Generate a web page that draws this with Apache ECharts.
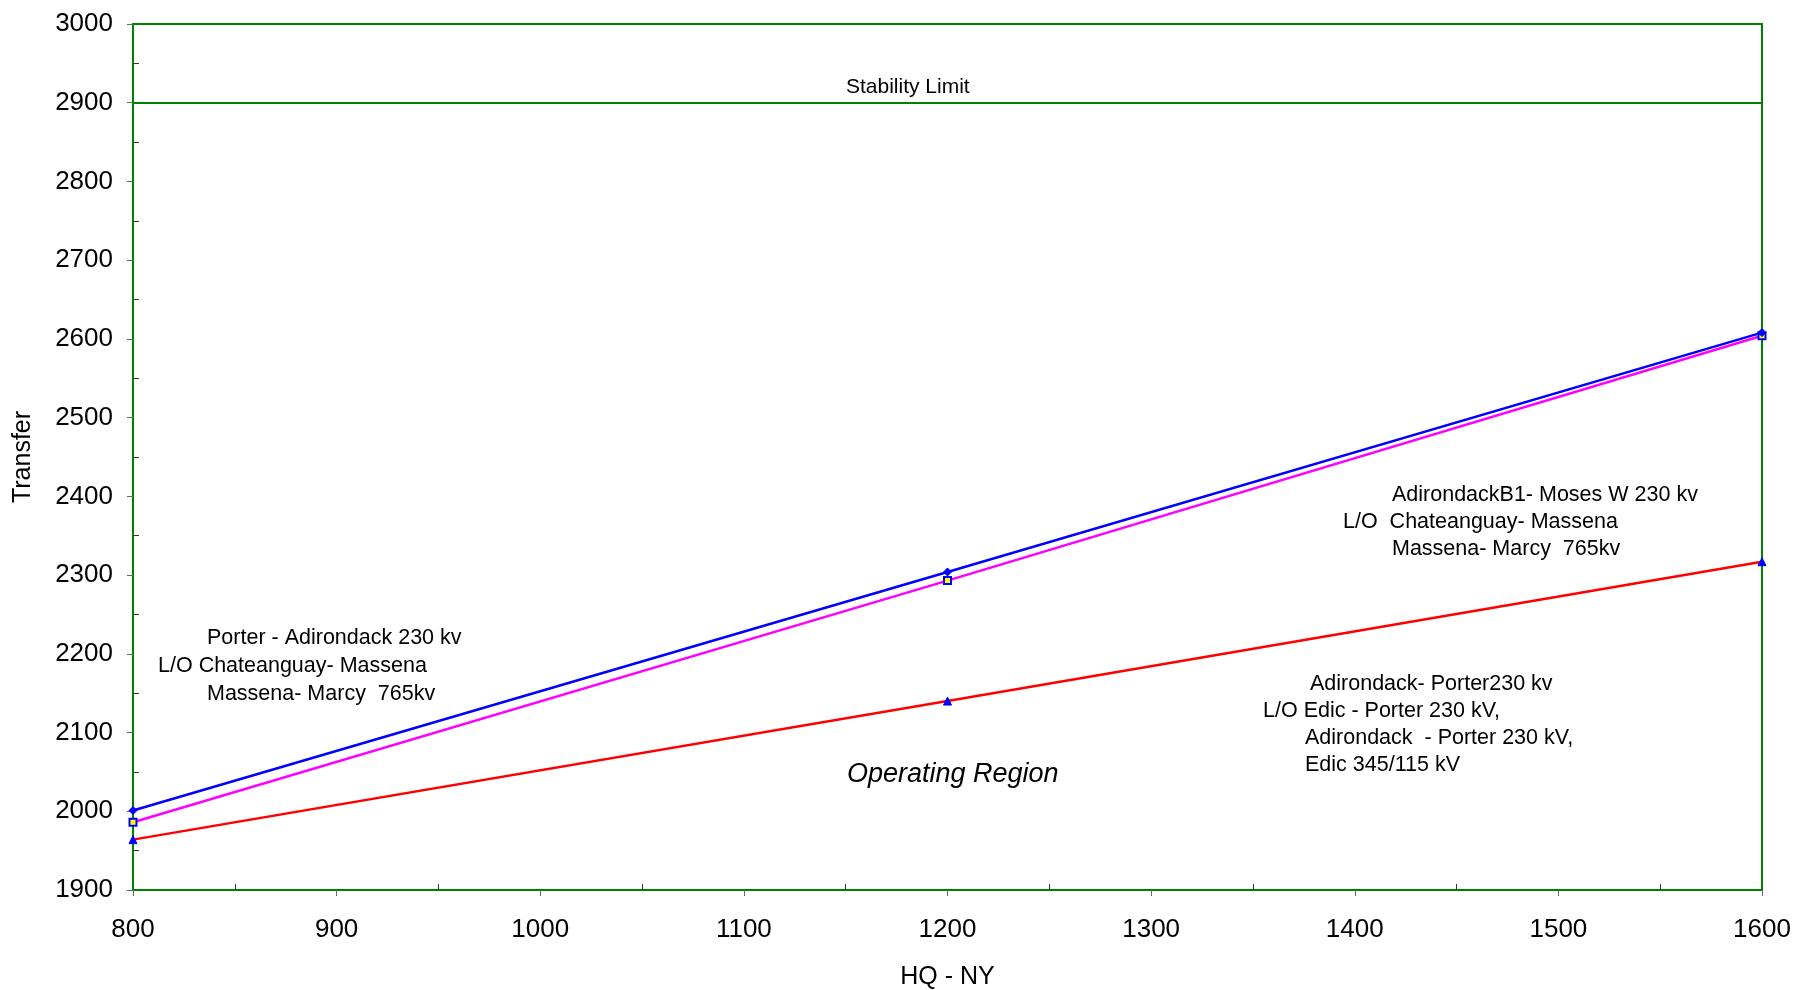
<!DOCTYPE html>
<html>
<head>
<meta charset="utf-8">
<script src="https://cdn.jsdelivr.net/npm/echarts@6/dist/echarts.min.js"></script>
<style>html,body{margin:0;padding:0;background:#fff;}#c{width:1794px;height:990px;}</style>
</head>
<body>
<div id="c"></div>
<script>
const hqNy = [800, 1200, 1600];
const porterAdirondack = [2001, 2304, 2608];
const adirondackB1Moses = [1986, 2293, 2604];
const adirondackPorter = [1964, 2140, 2317];
const stabilityLimit = 2900;

const FONT = '"Liberation Sans", Arial, sans-serif';
const GREEN = '#008000';

function pairs(xs, ys) { return xs.map((x, i) => [x, ys[i]]); }

const chart = echarts.init(document.getElementById('c'), null, {renderer: 'canvas'});
const txt = (left, top, text, extra) => Object.assign({
  type: 'text', left: left, top: top,
  style: Object.assign({text: text, font: '21.5px ' + FONT, fill: '#000'}, extra || {})
});
chart.setOption({
  animation: false,
  backgroundColor: '#fff',
  grid: {left: 133, right: 32, top: 24, bottom: 100, outerBoundsMode: 'none', containLabel: false, show: true, borderColor: GREEN, borderWidth: 2, backgroundColor: 'transparent'},
  xAxis: {
    type: 'value', min: 800, max: 1600, interval: 100,
    name: 'HQ - NY', nameLocation: 'middle', nameGap: 75,
    nameTextStyle: {fontFamily: FONT, fontSize: 25, color: '#000'},
    axisLine: {show: true, lineStyle: {color: GREEN, width: 2}},
    axisTick: {show: true, length: 6, lineStyle: {color: '#666'}},
    minorTick: {show: true, splitNumber: 2, length: -6, lineStyle: {color: '#333'}},
    axisLabel: {fontFamily: FONT, fontSize: 26, color: '#000', margin: 27, formatter: v => String(v)},
    splitLine: {show: false}
  },
  yAxis: {
    type: 'value', min: 1900, max: 3000, interval: 100,
    name: 'Transfer', nameLocation: 'middle', nameGap: 97,
    nameTextStyle: {fontFamily: FONT, fontSize: 25, color: '#000'},
    axisLine: {show: true, lineStyle: {color: GREEN, width: 2}},
    axisTick: {show: true, length: 6, lineStyle: {color: '#666'}},
    minorTick: {show: true, splitNumber: 2, length: -6, lineStyle: {color: '#333'}},
    axisLabel: {fontFamily: FONT, fontSize: 26, color: '#000', margin: 20, formatter: v => String(v)},
    splitLine: {show: false}
  },
  series: [
    {
      type: 'line', data: pairs(hqNy, adirondackPorter),
      lineStyle: {color: '#ff0000', width: 2.5},
      symbol: 'triangle', symbolSize: 8,
      itemStyle: {color: '#0000ff', borderColor: '#0000ff'},
      z: 3,
      markLine: {
        silent: true, symbol: 'none', label: {show: false},
        lineStyle: {color: GREEN, width: 2, type: 'solid'},
        data: [{yAxis: stabilityLimit}]
      }
    },
    {
      type: 'line', data: pairs(hqNy, adirondackB1Moses),
      lineStyle: {color: '#ff00ff', width: 2.5},
      symbol: 'rect', symbolSize: 7,
      itemStyle: {color: '#ffff00', borderColor: '#0000ff', borderWidth: 2},
      z: 4
    },
    {
      type: 'line', data: pairs(hqNy, porterAdirondack),
      lineStyle: {color: '#0000ff', width: 2.5},
      symbol: 'diamond', symbolSize: 8,
      itemStyle: {color: '#0000ff', borderColor: '#0000ff'},
      z: 5
    }
  ],
  graphic: [
    txt(846, 77, 'Stability Limit', {font: '21px ' + FONT}),
    txt(207, 627, 'Porter - Adirondack 230 kv'),
    txt(158, 655, 'L/O Chateanguay- Massena'),
    txt(207, 683, 'Massena- Marcy  765kv'),
    txt(1392, 484, 'AdirondackB1- Moses W 230 kv'),
    txt(1343, 511, 'L/O  Chateanguay- Massena'),
    txt(1392, 538, 'Massena- Marcy  765kv'),
    txt(1310, 673, 'Adirondack- Porter230 kv'),
    txt(1263, 700, 'L/O Edic - Porter 230 kV,'),
    txt(1305, 727, 'Adirondack  - Porter 230 kV,'),
    txt(1305, 754, 'Edic 345/115 kV'),
    txt(847, 761, 'Operating Region', {font: 'italic 27px ' + FONT})
  ]
});
</script>
</body>
</html>
